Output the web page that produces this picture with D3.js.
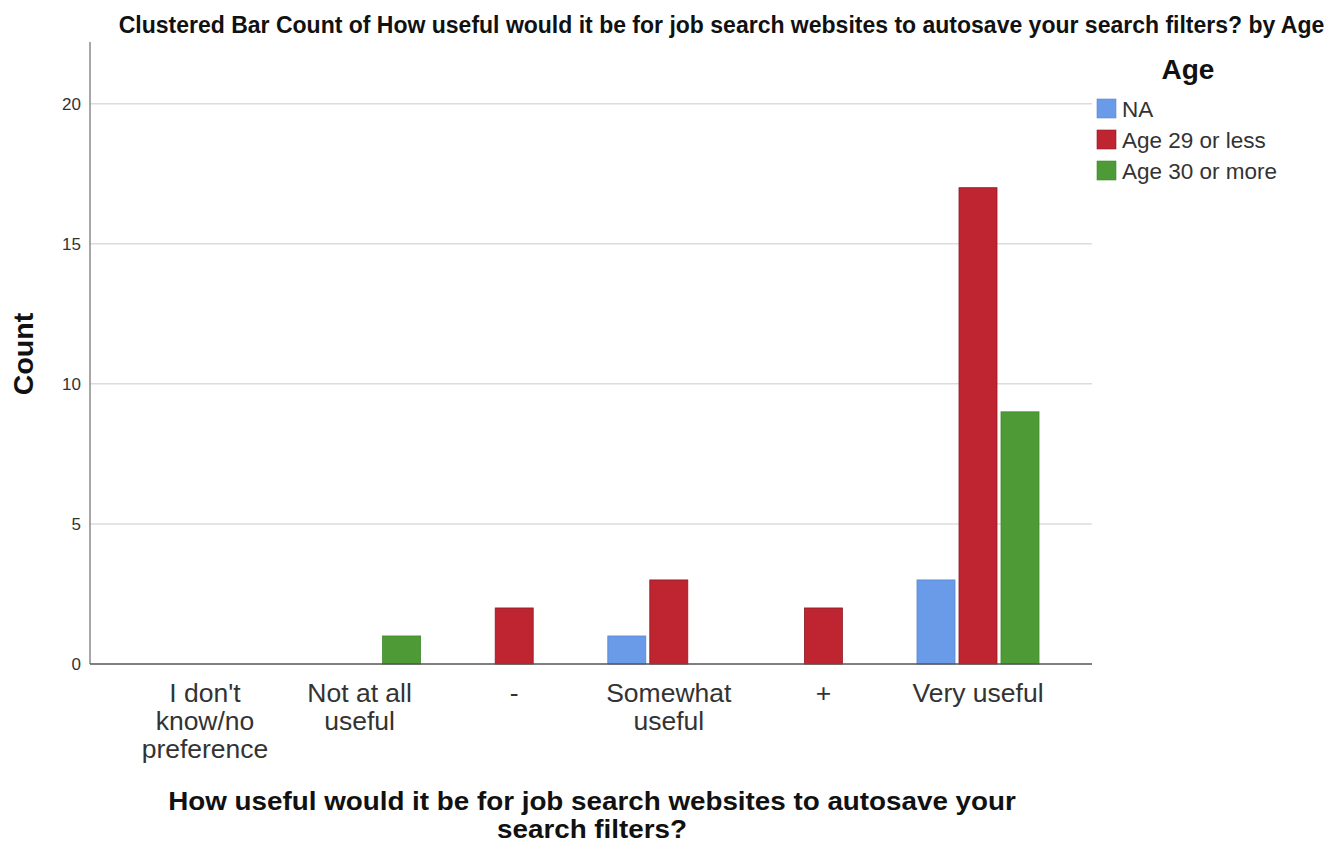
<!DOCTYPE html>
<html>
<head>
<meta charset="utf-8">
<script src="https://cdn.jsdelivr.net/npm/d3@7"></script>
<style>
  body { margin: 0; background: #fff; }
  svg { display: block; }
</style>
</head>
<body>
<div class="chart"></div>
<script>
// data
const categories = ["I don't know/no preference", "Not at all useful", "-", "Somewhat useful", "+", "Very useful"];
const categoryLines = [["I don't", "know/no", "preference"], ["Not at all", "useful"], ["-"], ["Somewhat", "useful"], ["+"], ["Very useful"]];
const groups = ["NA", "Age 29 or less", "Age 30 or more"];
const naCounts = [0, 0, 0, 1, 0, 3];
const youngCounts = [0, 0, 2, 3, 2, 17];
const olderCounts = [0, 1, 0, 0, 0, 9];
const yTicks = [0, 5, 10, 15, 20];

const width = 1340, height = 844;
const colors = { "NA": "#6a9be8", "Age 29 or less": "#be2531", "Age 30 or more": "#4d9a37" };
const strokes = { "NA": "#5a87cf", "Age 29 or less": "#8e1a27", "Age 30 or more": "#3f8a2c" };

const seriesValues = { "NA": naCounts, "Age 29 or less": youngCounts, "Age 30 or more": olderCounts };
const bars = [];
categories.forEach((c, i) => {
    groups.forEach(g => bars.push({ cat: c, group: g, value: seriesValues[g][i] }));
});

const svg = d3.select('.chart').append('svg')
    .attr('width', width)
    .attr('height', height);

/* Scales */
const axisLeft = 90, axisRight = 1092, yBottom = 664, yTop = 42;

const x = d3.scaleBand()
    .domain(categories)
    .range([127.7, 1055.3]);

const xInner = d3.scaleBand()
    .domain(groups)
    .range([0, x.bandwidth()])
    .paddingInner(0.095)
    .paddingOuter(0.388);

const y = d3.scaleLinear()
    .domain([0, 22.2])
    .range([yBottom, yTop]);

/* Title */
svg.append('text')
    .attr('x', 721.5)
    .attr('y', 33)
    .attr('text-anchor', 'middle')
    .style('font-family', '"Liberation Sans Narrow", "Liberation Sans", Arial, sans-serif')
    .style('font-weight', 'bold')
    .style('font-size', '23px')
    .attr('fill', '#111')
    .text('Clustered Bar Count of How useful would it be for job search websites to autosave your search filters? by Age');

/* Gridlines */
svg.append('g')
    .attr('class', 'grid')
    .selectAll('line')
    .data(yTicks.filter(d => d > 0)).enter()
    .append('line')
    .attr('x1', axisLeft)
    .attr('x2', axisRight)
    .attr('y1', d => y(d))
    .attr('y2', d => y(d))
    .attr('stroke', '#dcdcdc')
    .attr('stroke-width', 1.5);

/* Y axis */
const yAxis = d3.axisLeft(y).tickValues(yTicks).tickSize(0).tickPadding(9);
const gy = svg.append('g')
    .attr('transform', `translate(${axisLeft},0)`)
    .call(yAxis);
gy.select('.domain').remove();
gy.selectAll('text')
    .style('font-family', '"Liberation Sans", Arial, sans-serif')
    .style('font-size', '17px')
    .attr('fill', '#333');

svg.append('line')
    .attr('x1', axisLeft).attr('x2', axisLeft)
    .attr('y1', yTop).attr('y2', yBottom)
    .attr('stroke', '#8a8a8a')
    .attr('stroke-width', 1.5);

/* Bars */
svg.append('g')
    .attr('class', 'bars')
    .selectAll('rect')
    .data(bars.filter(d => d.value > 0)).enter()
    .append('rect')
    .attr('x', d => x(d.cat) + xInner(d.group))
    .attr('y', d => y(d.value))
    .attr('width', xInner.bandwidth())
    .attr('height', d => y(0) - y(d.value))
    .attr('fill', d => colors[d.group])
    .attr('stroke', d => strokes[d.group])
    .attr('stroke-width', 0.8);

/* X axis */
svg.append('line')
    .attr('x1', axisLeft).attr('x2', axisRight)
    .attr('y1', yBottom).attr('y2', yBottom)
    .attr('stroke', '#555')
    .attr('stroke-width', 1.5);

const xLabels = svg.append('g')
    .attr('class', 'x-labels')
    .selectAll('text')
    .data(categories).enter()
    .append('text')
    .attr('x', d => x(d) + x.bandwidth() / 2)
    .attr('y', 702)
    .attr('text-anchor', 'middle')
    .style('font-family', '"Liberation Sans", Arial, sans-serif')
    .style('font-size', '26.5px')
    .attr('fill', '#333');

xLabels.selectAll('tspan')
    .data((d, i) => categoryLines[i]).enter()
    .append('tspan')
    .attr('x', function () { return d3.select(this.parentNode).attr('x'); })
    .attr('dy', (d, i) => i === 0 ? 0 : 28)
    .text(d => d);

/* Axis titles */
svg.append('text')
    .attr('transform', 'translate(33,354) rotate(-90)')
    .attr('text-anchor', 'middle')
    .style('font-family', '"Liberation Sans", Arial, sans-serif')
    .style('font-weight', 'bold')
    .style('font-size', '28.5px')
    .attr('fill', '#111')
    .text('Count');

// x title: slightly widened so its two lines fit the bottom margin
const xTitle = svg.append('g')
    .attr('transform', 'translate(592,0) scale(1.112,1)')
    .append('text')
    .attr('text-anchor', 'middle')
    .style('font-family', '"Liberation Sans", Arial, sans-serif')
    .style('font-weight', 'bold')
    .style('font-size', '25px')
    .attr('fill', '#111');
xTitle.append('tspan').attr('x', 0).attr('y', 810)
    .text('How useful would it be for job search websites to autosave your');
xTitle.append('tspan').attr('x', 0).attr('y', 838)
    .text('search filters?');

/* Legend */
svg.append('text')
    .attr('x', 1188)
    .attr('y', 79)
    .attr('text-anchor', 'middle')
    .style('font-family', '"Liberation Sans", Arial, sans-serif')
    .style('font-weight', 'bold')
    .style('font-size', '28px')
    .attr('fill', '#111')
    .text('Age');

const legend = svg.append('g')
    .attr('class', 'legend')
    .selectAll('g')
    .data(groups).enter()
    .append('g')
    .attr('transform', (d, i) => `translate(1097,${99 + i * 31})`);

legend.append('rect')
    .attr('width', 19)
    .attr('height', 19)
    .attr('fill', d => colors[d])
    .attr('stroke', d => strokes[d])
    .attr('stroke-width', 0.6);

legend.append('text')
    .attr('x', 25)
    .attr('y', 18)
    .style('font-family', '"Liberation Sans", Arial, sans-serif')
    .style('font-size', '22.5px')
    .attr('fill', '#333')
    .text(d => d);
</script>
</body>
</html>
